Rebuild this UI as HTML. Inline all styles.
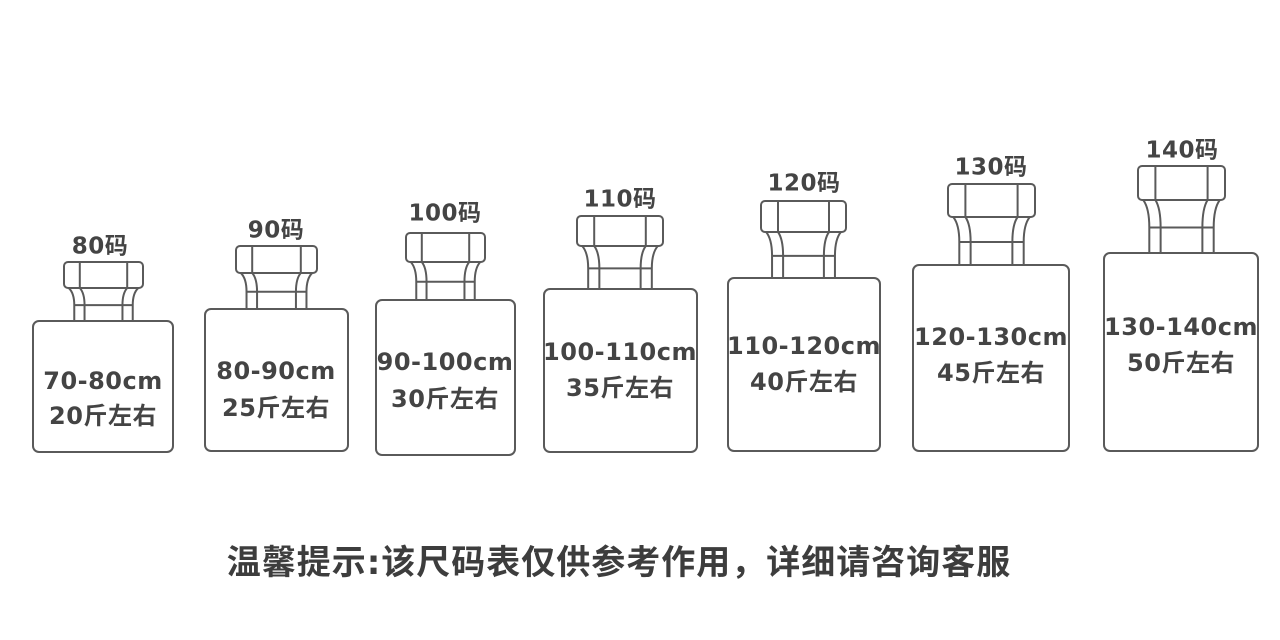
<!DOCTYPE html>
<html><head><meta charset="utf-8">
<style>
body{margin:0;width:1280px;height:640px;background:#fff;position:relative;overflow:hidden;font-family:"DejaVu Sans","Noto Sans CJK SC",sans-serif;color:#444;font-weight:bold}
svg{position:absolute;left:0;top:0}
.t{position:absolute;transform:translate(-50%,-50%);white-space:nowrap;line-height:1}
.l{font-size:23px;letter-spacing:0.5px}
.b{font-size:24px;letter-spacing:0.5px}
.f{font-size:34px;letter-spacing:1px;color:#3d3d3d}
</style></head><body>
<svg id="s" width="1280" height="640" viewBox="0 0 1280 640"></svg>
<div class="t l" style="left:100px;top:247px">80码</div>
<div class="t l" style="left:276px;top:231px">90码</div>
<div class="t l" style="left:445px;top:214px">100码</div>
<div class="t l" style="left:620px;top:200px">110码</div>
<div class="t l" style="left:804px;top:184px">120码</div>
<div class="t l" style="left:991px;top:168px">130码</div>
<div class="t l" style="left:1182px;top:151px">140码</div>

<div class="t b" style="left:103px;top:381px">70-80cm</div>
<div class="t b" style="left:103px;top:416px">20斤左右</div>
<div class="t b" style="left:276px;top:371px">80-90cm</div>
<div class="t b" style="left:276px;top:408px">25斤左右</div>
<div class="t b" style="left:445px;top:362px">90-100cm</div>
<div class="t b" style="left:445px;top:399px">30斤左右</div>
<div class="t b" style="left:620px;top:352px">100-110cm</div>
<div class="t b" style="left:620px;top:388px">35斤左右</div>
<div class="t b" style="left:804px;top:346px">110-120cm</div>
<div class="t b" style="left:804px;top:382px">40斤左右</div>
<div class="t b" style="left:991px;top:337px">120-130cm</div>
<div class="t b" style="left:991px;top:373px">45斤左右</div>
<div class="t b" style="left:1181px;top:327px">130-140cm</div>
<div class="t b" style="left:1181px;top:363px">50斤左右</div>

<div class="t f" style="left:619px;top:563px">温馨提示:该尺码表仅供参考作用，详细请咨询客服</div>
<script>
var B=[[33,321,140,131,64,262,79,26],[205,309,143,142,236,246,81,27],[376,300,139,155,406,233,79,29],[544,289,153,163,577,216,86,30],[728,278,152,173,761,201,85,31],[913,265,156,186,948,184,87,33],[1104,253,154,198,1138,166,87,34]];
var h='';
B.forEach(function(b){
var bx=b[0],by=b[1],bw=b[2],bh=b[3],cx0=b[4],cy=b[5],cw=b[6],ch=b[7];
var c=cx0+cw/2,cb=cy+ch,nt=cb+(by-cb)*0.52;
h+='<rect x="'+bx+'" y="'+by+'" width="'+bw+'" height="'+bh+'" rx="6"/>';
h+='<rect x="'+cx0+'" y="'+cy+'" width="'+cw+'" height="'+ch+'" rx="4"/>';
h+='<line x1="'+(cx0+cw*0.2)+'" y1="'+cy+'" x2="'+(cx0+cw*0.2)+'" y2="'+cb+'"/>';
h+='<line x1="'+(cx0+cw*0.8)+'" y1="'+cy+'" x2="'+(cx0+cw*0.8)+'" y2="'+cb+'"/>';
[[0.44,0.37],[0.3,0.24]].forEach(function(p){
[-1,1].forEach(function(s){
var a=c+s*cw*p[0],e=c+s*cw*p[1];
h+='<path d="M'+a+' '+cb+' Q'+e+' '+(cb+(nt-cb)*0.3)+' '+e+' '+nt+' L'+e+' '+by+'"/>';
});});
h+='<line x1="'+(c-cw*0.37)+'" y1="'+nt+'" x2="'+(c+cw*0.37)+'" y2="'+nt+'"/>';
});
document.getElementById('s').innerHTML='<g fill="none" stroke="#5a5a5a" stroke-width="2">'+h+'</g>';
</script>
</body></html>
